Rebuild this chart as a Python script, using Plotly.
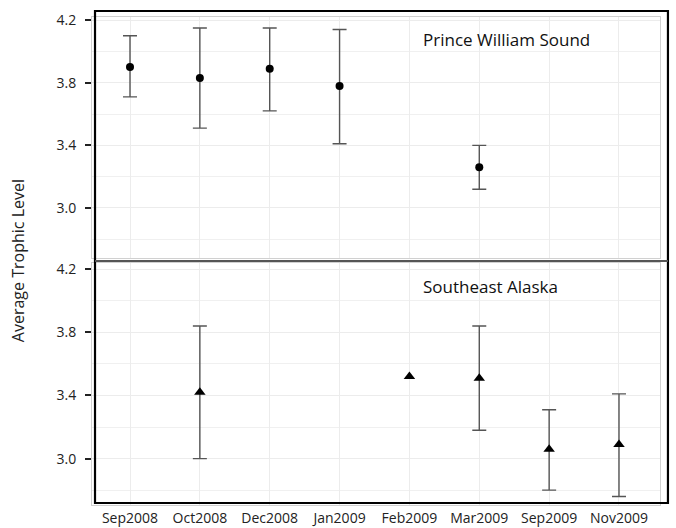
import plotly.graph_objects as go
from plotly.subplots import make_subplots

months = ["Sep2008", "Oct2008", "Dec2008", "Jan2009", "Feb2009", "Mar2009", "Sep2009", "Nov2009"]

# Prince William Sound
pws_months = ["Sep2008", "Oct2008", "Dec2008", "Jan2009", "Mar2009"]
pws_mean = [3.90, 3.83, 3.89, 3.78, 3.26]
pws_upper = [4.10, 4.15, 4.15, 4.14, 3.40]
pws_lower = [3.71, 3.51, 3.62, 3.41, 3.12]

# Southeast Alaska
sea_months = ["Oct2008", "Feb2009", "Mar2009", "Sep2009", "Nov2009"]
sea_mean = [3.42, 3.52, 3.51, 3.06, 3.09]
sea_upper = [3.84, None, 3.84, 3.31, 3.41]
sea_lower = [3.00, None, 3.18, 2.80, 2.76]

yticks = [3.0, 3.4, 3.8, 4.2]

FONT = "Open Sans"
ERR_COLOR = "#555555"


def add_series(fig, xs, mean, up, lo, symbol, size, row):
    # error bars only where bounds exist
    ex, ey, ep, em = [], [], [], []
    for x, mval, u, l in zip(xs, mean, up, lo):
        if u is not None and l is not None:
            ex.append(x)
            ey.append(mval)
            ep.append(u - mval)
            em.append(mval - l)
    fig.add_trace(go.Scatter(
        x=ex, y=ey, mode="markers", marker=dict(size=1, color="rgba(0,0,0,0)"),
        error_y=dict(type="data", symmetric=False, array=ep, arrayminus=em,
                     color=ERR_COLOR, thickness=1.4, width=7),
        hoverinfo="skip", showlegend=False), row=row, col=1)
    fig.add_trace(go.Scatter(
        x=xs, y=mean, mode="markers",
        marker=dict(symbol=symbol, size=size, color="black"),
        showlegend=False), row=row, col=1)


fig = make_subplots(rows=2, cols=1, shared_xaxes=True, vertical_spacing=0.01)
add_series(fig, pws_months, pws_mean, pws_upper, pws_lower, "circle", 8, 1)
add_series(fig, sea_months, sea_mean, sea_upper, sea_lower, "triangle-up", 10, 2)

xcommon = dict(type="category", categoryorder="array", categoryarray=months,
               range=[-0.544, 7.587], showgrid=True, gridcolor="#ececec", gridwidth=1,
               showline=True, linecolor="#d0d0d0", linewidth=1, mirror=True,
               zeroline=False, ticks="", automargin=False,
               tickfont=dict(family=FONT, size=14, color="#222222"))
fig.update_xaxes(**xcommon)
fig.update_xaxes(showticklabels=False, row=1, col=1)

ycommon = dict(tickvals=yticks, ticktext=[f"{v:.1f}" for v in yticks],
               showgrid=True, gridcolor="#ececec", gridwidth=1,
               minor=dict(dtick=0.4, tick0=2.8, showgrid=True, gridcolor="#f0f0f0", ticks=""),
               showline=True, linecolor="#d0d0d0", linewidth=1, mirror=True,
               zeroline=False, ticks="outside", ticklen=6, tickcolor="#222222", tickwidth=1.5,
               ticklabelstandoff=6, automargin=False,
               tickfont=dict(family=FONT, size=14, color="#222222"))
fig.update_yaxes(**ycommon)
fig.update_yaxes(range=[2.68, 4.22], row=1, col=1)
fig.update_yaxes(range=[2.706, 4.24], row=2, col=1)

fig.update_layout(
    width=676, height=528,
    margin=dict(l=92, r=16, t=17, b=23),
    plot_bgcolor="white", paper_bgcolor="white",
    font=dict(family=FONT, color="#222222"),
    yaxis=dict(domain=[0.506, 1.0]),
    yaxis2=dict(domain=[0.0, 0.496]),
)

# outer black frame and divider
fig.add_shape(type="rect", xref="paper", yref="paper",
              x0=0.0053, x1=1.014, y0=0.0041, y1=1.0123,
              line=dict(color="black", width=2.2), fillcolor="rgba(0,0,0,0)")
fig.add_shape(type="line", xref="paper", yref="paper",
              x0=0.0053, x1=1.014, y0=0.5, y1=0.5,
              line=dict(color="#555555", width=1.8))

fig.add_annotation(text="Prince William Sound", xref="paper", yref="paper",
                   x=0.579, y=0.953, xanchor="left", yanchor="middle", showarrow=False,
                   font=dict(family=FONT, size=17, color="#111111"))
fig.add_annotation(text="Southeast Alaska", xref="paper", yref="paper",
                   x=0.579, y=0.447, xanchor="left", yanchor="middle", showarrow=False,
                   font=dict(family=FONT, size=17, color="#111111"))
fig.add_annotation(text="Average Trophic Level", xref="paper", yref="paper",
                   x=-0.13, y=0.5, xanchor="center", yanchor="middle", showarrow=False,
                   textangle=-90, font=dict(family=FONT, size=16, color="#222222"))

fig.write_html("out.html", config={"displayModeBar": False},
               post_script="document.body.style.margin='0px';")
